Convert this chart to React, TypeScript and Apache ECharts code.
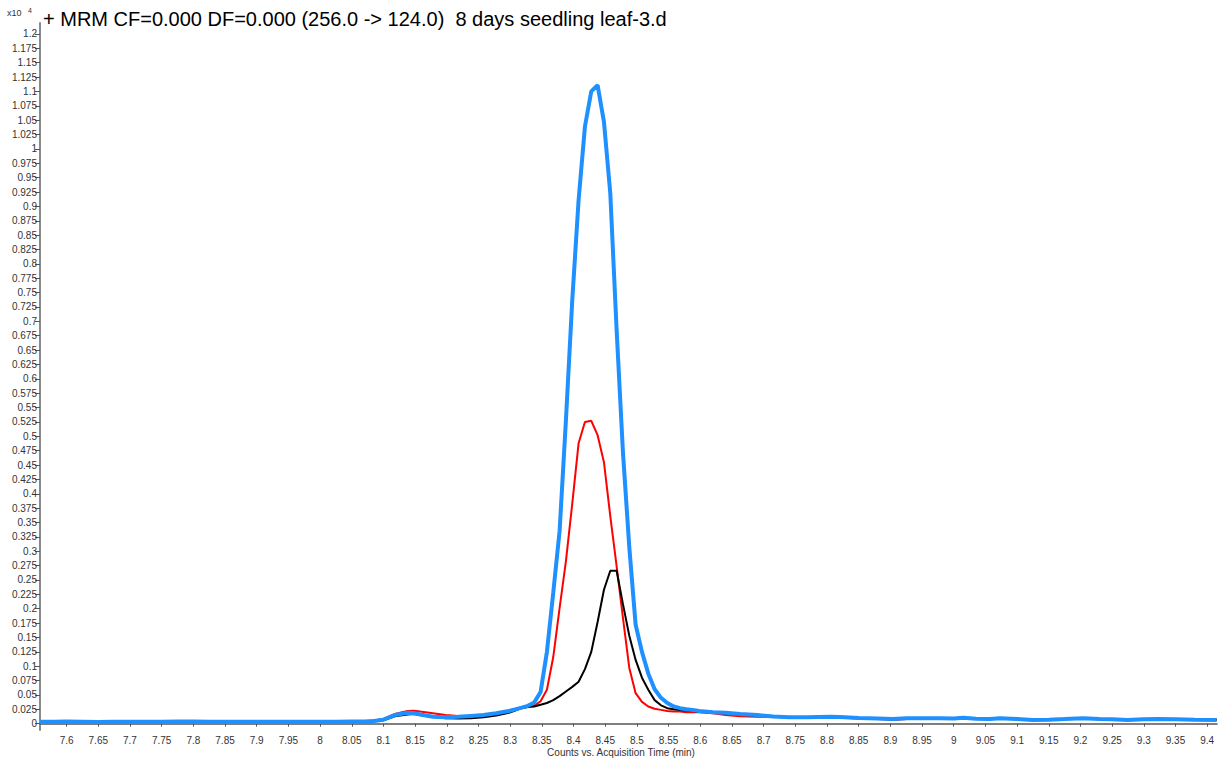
import React, { useEffect, useRef } from "react";
import * as echarts from "echarts";

const times = [
  7.558, 7.58, 7.6, 7.625, 7.65, 7.675, 7.7, 7.725, 7.75, 7.775, 7.8, 7.825, 7.85, 7.875, 7.9, 7.925, 7.95, 7.975, 8.0, 8.025, 8.05, 8.07, 8.085,
  8.1, 8.118, 8.138, 8.148, 8.158, 8.178, 8.198, 8.218, 8.238, 8.258, 8.278,
  8.298, 8.308, 8.318, 8.328, 8.338, 8.348, 8.358, 8.368, 8.378, 8.388, 8.398, 8.408, 8.418, 8.428, 8.438, 8.448, 8.458, 8.468, 8.478, 8.488, 8.498, 8.508, 8.518, 8.528, 8.538, 8.548, 8.558, 8.568, 8.578, 8.588, 8.598,
  8.62, 8.64, 8.663, 8.69, 8.715, 8.74, 8.77, 8.805, 8.82, 8.85, 8.88, 8.904, 8.926, 8.95, 8.978, 9.0, 9.015, 9.035, 9.057, 9.073, 9.1, 9.125, 9.15, 9.175, 9.204, 9.23, 9.25, 9.274, 9.3, 9.321, 9.35, 9.38, 9.415,
];

const blueValues = [
  0.0035, 0.0035, 0.004, 0.0035, 0.003, 0.0035, 0.0035, 0.0035, 0.0035, 0.004, 0.004, 0.0035, 0.0035, 0.0035, 0.0035, 0.0035, 0.0035, 0.0035, 0.0035, 0.0035, 0.0038, 0.004, 0.0048,
  0.007, 0.015, 0.019, 0.0186, 0.016, 0.012, 0.011, 0.012, 0.0135, 0.015, 0.018,
  0.022, 0.025, 0.028, 0.031, 0.037, 0.055, 0.125, 0.228, 0.335, 0.528, 0.737, 0.911, 1.039, 1.1, 1.111, 1.047, 0.923, 0.685, 0.472, 0.307, 0.172, 0.125, 0.087, 0.06, 0.045, 0.036, 0.03, 0.027, 0.025, 0.024, 0.022,
  0.02, 0.019, 0.017, 0.015, 0.0125, 0.011, 0.011, 0.012, 0.0115, 0.01, 0.009, 0.008, 0.0094, 0.0095, 0.0094, 0.009, 0.0105, 0.0085, 0.008, 0.0094, 0.008, 0.0065, 0.007, 0.008, 0.0094, 0.008, 0.0075, 0.0065, 0.0075, 0.008, 0.0078, 0.007, 0.0064,
];

const redValues = [
  0.003, 0.003, 0.0035, 0.003, 0.003, 0.003, 0.003, 0.003, 0.003, 0.0035, 0.0035, 0.003, 0.003, 0.003, 0.003, 0.003, 0.003, 0.003, 0.003, 0.003, 0.0035, 0.004, 0.0055,
  0.008, 0.017, 0.022, 0.0226, 0.021, 0.018, 0.015, 0.0135, 0.013, 0.015, 0.018,
  0.022, 0.025, 0.028, 0.03, 0.031, 0.039, 0.059, 0.116, 0.201, 0.283, 0.383, 0.488, 0.525, 0.527, 0.502, 0.455, 0.361, 0.274, 0.184, 0.097, 0.053, 0.038, 0.03, 0.026, 0.024, 0.022, 0.021, 0.021, 0.02, 0.02, 0.02,
  0.018, 0.015, 0.013, 0.012, 0.012, 0.011, 0.011, 0.011, 0.0105, 0.0095, 0.008, 0.0065, 0.008, 0.009, 0.009, 0.0085, 0.009, 0.009, 0.0085, 0.0085, 0.0075, 0.0065, 0.007, 0.0085, 0.0085, 0.008, 0.0075, 0.007, 0.0075, 0.0075, 0.0075, 0.0075, 0.0075,
];

const blackValues = [
  0.003, 0.003, 0.0035, 0.003, 0.003, 0.003, 0.003, 0.003, 0.003, 0.0035, 0.0035, 0.003, 0.003, 0.003, 0.003, 0.003, 0.003, 0.003, 0.003, 0.003, 0.0035, 0.004, 0.005,
  0.006, 0.013, 0.016, 0.017, 0.015, 0.012, 0.0095, 0.009, 0.0095, 0.011, 0.014,
  0.019, 0.023, 0.027, 0.029, 0.03, 0.033, 0.036, 0.041, 0.048, 0.056, 0.064, 0.073, 0.095, 0.125, 0.177, 0.233, 0.266, 0.266, 0.208, 0.153, 0.111, 0.08, 0.059, 0.041, 0.032, 0.027, 0.025, 0.024, 0.023, 0.022, 0.021,
  0.019, 0.018, 0.016, 0.014, 0.012, 0.011, 0.0105, 0.011, 0.0105, 0.0095, 0.0085, 0.0075, 0.0085, 0.009, 0.009, 0.0085, 0.0095, 0.008, 0.0075, 0.009, 0.0075, 0.0065, 0.007, 0.008, 0.009, 0.008, 0.0075, 0.0065, 0.0075, 0.008, 0.0075, 0.007, 0.0065,
];

const yTicks = [
  0, 0.025, 0.05, 0.075, 0.1, 0.125, 0.15, 0.175, 0.2, 0.225, 0.25, 0.275, 0.3, 0.325, 0.35, 0.375, 0.4, 0.425, 0.45, 0.475,
  0.5, 0.525, 0.55, 0.575, 0.6, 0.625, 0.65, 0.675, 0.7, 0.725, 0.75, 0.775, 0.8, 0.825, 0.85, 0.875, 0.9, 0.925, 0.95, 0.975,
  1, 1.025, 1.05, 1.075, 1.1, 1.125, 1.15, 1.175, 1.2,
];

const xTicks = [
  7.6, 7.65, 7.7, 7.75, 7.8, 7.85, 7.9, 7.95, 8, 8.05, 8.1, 8.15, 8.2, 8.25, 8.3, 8.35, 8.4, 8.45, 8.5, 8.55,
  8.6, 8.65, 8.7, 8.75, 8.8, 8.85, 8.9, 8.95, 9, 9.05, 9.1, 9.15, 9.2, 9.25, 9.3, 9.35, 9.4,
];

const titleText = "+ MRM CF=0.000 DF=0.000 (256.0 -> 124.0)  8 days seedling leaf-3.d";
const xAxisTitle = "Counts vs. Acquisition Time (min)";

const FONT = "'Liberation Sans', Arial, sans-serif";

function pairs(vals: number[]) {
  return times.map((t, i) => [t, vals[i]]);
}

export default function App() {
  const ref = useRef<HTMLDivElement>(null);
  useEffect(() => {
    if (!ref.current) return;
    const chart = echarts.init(ref.current, undefined, { renderer: "svg" });
    chart.setOption({
      animation: false,
      backgroundColor: "#ffffff",
      grid: { left: 40, right: 8, top: 23, bottom: 33, containLabel: false, outerBoundsMode: "none" },
      xAxis: {
        type: "value",
        min: 7.558,
        max: 9.4155,
        axisLine: { show: true, lineStyle: { color: "#555555", width: 1.5 } },
        axisTick: { show: true, length: 3, lineStyle: { color: "#555555" }, customValues: xTicks },
        axisLabel: {
          customValues: xTicks,
          margin: 5,
          fontSize: 10,
          fontFamily: FONT,
          color: "#333333",
          formatter: (v: number) => String(v),
        },
        splitLine: { show: false },
      },
      yAxis: {
        type: "value",
        min: -0.011,
        max: 1.2191,
        axisLine: { show: true, lineStyle: { color: "#8a8a8a", width: 2 } },
        axisTick: { show: true, length: 5, lineStyle: { color: "#555555" }, customValues: yTicks },
        axisLabel: {
          customValues: yTicks,
          margin: 3,
          fontSize: 10,
          fontFamily: FONT,
          color: "#333333",
          formatter: (v: number) => String(v),
        },
        splitLine: { show: false },
      },
      series: [
        {
          type: "line",
          data: pairs(redValues),
          showSymbol: false,
          symbol: "none",
          lineStyle: { color: "#ff0000", width: 2 },
          z: 2,
        },
        {
          type: "line",
          data: pairs(blackValues),
          showSymbol: false,
          symbol: "none",
          lineStyle: { color: "#000000", width: 2 },
          z: 3,
        },
        {
          type: "line",
          data: pairs(blueValues),
          showSymbol: false,
          symbol: "none",
          lineStyle: { color: "#1e90ff", width: 4 },
          z: 4,
        },
      ],
      graphic: [
        {
          type: "text",
          x: 43,
          y: 19,
          style: { text: titleText, fontSize: 20, fontFamily: FONT, fill: "#000000", verticalAlign: "middle" },
        },
        {
          type: "text",
          x: 7,
          y: 13,
          style: { text: "x10", fontSize: 9, fontFamily: FONT, fill: "#333333", verticalAlign: "middle" },
        },
        {
          type: "text",
          x: 28,
          y: 10,
          style: { text: "4", fontSize: 7, fontFamily: FONT, fill: "#333333", verticalAlign: "middle" },
        },
        {
          type: "text",
          x: 621,
          y: 752,
          style: { text: xAxisTitle, fontSize: 10, fontFamily: FONT, fill: "#333333", align: "center", verticalAlign: "middle" },
        },
      ],
    });
    return () => chart.dispose();
  }, []);
  return (
    <div
      ref={ref}
      style={{ position: "fixed", left: 0, top: 0, width: 1225, height: 763 }}
    />
  );
}
